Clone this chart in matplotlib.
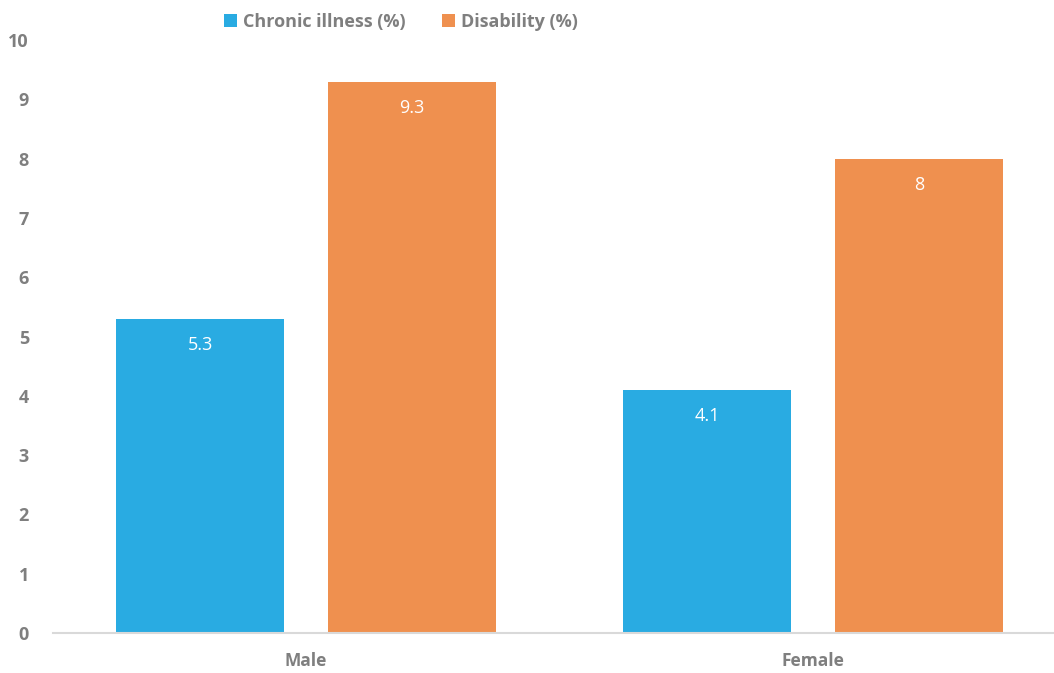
import numpy as np
import matplotlib
matplotlib.use("Agg")
import matplotlib.pyplot as plt

plt.rcParams['font.family'] = ['Open Sans', 'DejaVu Sans']

# данные с картинки
groups = ["Male", "Female"]
chronic_illness = [5.3, 4.1]
disability = [9.3, 8]
series_names = ["Chronic illness (%)", "Disability (%)"]

blue = "#29ABE2"
orange = "#EF904F"
grey = "#7F7F7F"

fig = plt.figure(figsize=(10.54, 6.73), dpi=100)
ax = fig.add_axes([52.5 / 1054, 1 - 633 / 673, 1014 / 1054, (633 - 40) / 673])

x = np.arange(len(groups))
width = 0.331
shift = width / 2 + 0.0435

bars1 = ax.bar(x - shift, chronic_illness, width, color=blue, label=series_names[0])
bars2 = ax.bar(x + shift, disability, width, color=orange, label=series_names[1])

# подписи значений внутри столбцов
for bars in (bars1, bars2):
    for b in bars:
        v = b.get_height()
        ax.annotate(f"{v:g}", (b.get_x() + b.get_width() / 2, v),
                    xytext=(0, -19), textcoords="offset points",
                    ha="center", va="center", color="white", fontsize=13)

ax.set_xlim(-0.5, 1.5)
ax.set_ylim(0, 10)
ax.set_yticks(range(0, 11))
ax.set_xticks(x)
ax.set_xticklabels(groups)

for s in ["top", "right", "left"]:
    ax.spines[s].set_visible(False)
ax.spines["bottom"].set_color("#D9D9D9")
ax.spines["bottom"].set_linewidth(1.5)

ax.tick_params(axis="both", length=0, colors=grey)
ax.tick_params(axis="y", pad=17)
ax.tick_params(axis="x", pad=14)
for lbl in ax.get_yticklabels():
    lbl.set_fontsize(13)
    lbl.set_fontweight("bold")
for lbl in ax.get_xticklabels():
    lbl.set_fontsize(12.5)
    lbl.set_fontweight("bold")

leg = fig.legend(loc="center", bbox_to_anchor=(401 / 1054, 1 - 22 / 673), ncol=2,
                 frameon=False, handlelength=0.7, handleheight=0.7,
                 handletextpad=0.35, columnspacing=2.0,
                 prop={"size": 13, "weight": "bold"})
for t in leg.get_texts():
    t.set_color(grey)

fig.savefig("out.png", dpi=100)
